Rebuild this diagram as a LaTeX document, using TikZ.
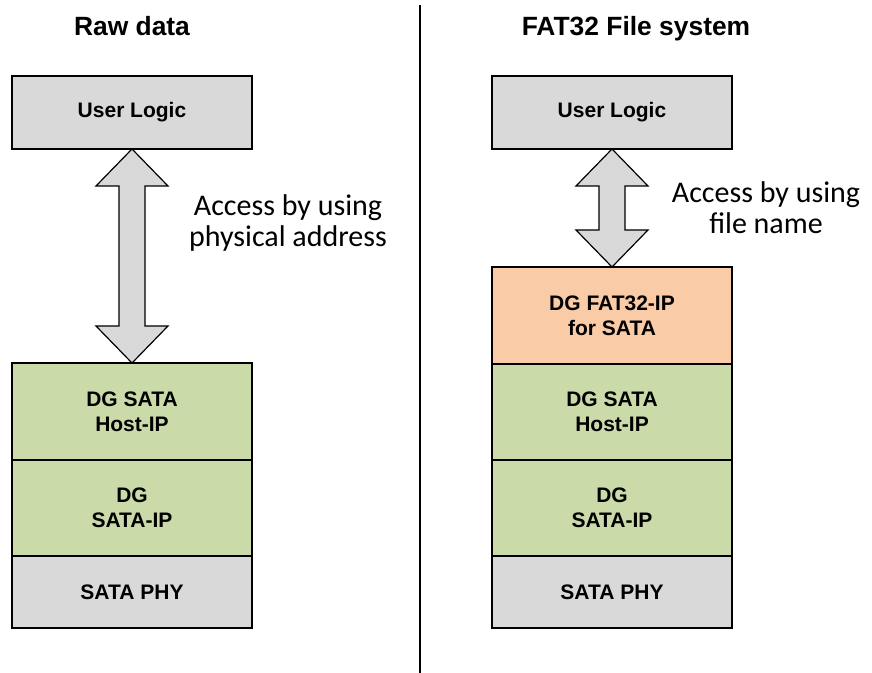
\documentclass[tikz,border=0pt]{standalone}
\usepackage{fontspec}
\setmainfont{Liberation Sans}
\newfontfamily\calibri{Carlito}
\usetikzlibrary{positioning,calc}

\definecolor{boxgray}{HTML}{D9D9D9}
\definecolor{boxgreen}{HTML}{CADBA9}
\definecolor{boxorange}{HTML}{F9CBA7}

% double headed block arrow between two anchors
\newcommand{\dblarrow}[2]{%
  \draw[bigarrow] (#1) -- ++(36,37) -- ++(-23,0) -- ($(#2)+(13,-37)$)
    -- ++(23,0) -- (#2) -- ++(-36,-37) -- ++(23,0)
    -- ($(#1)+(-13,37)$) -- ++(-23,0) -- cycle;}

\begin{document}
\begin{tikzpicture}[x=0.5pt,y=-0.5pt,node distance=0pt,
                    font=\bfseries\fontsize{10.5}{12.5}\selectfont]
\tikzstyle{layer}=[draw=black,line width=0.7pt,align=center,
                   minimum width=120pt,inner sep=0pt,outer sep=0pt]
\tikzstyle{gray}=[layer,fill=boxgray]
\tikzstyle{green}=[layer,fill=boxgreen]
\tikzstyle{orange}=[layer,fill=boxorange]
\tikzstyle{title}=[font=\bfseries\fontsize{13.2}{15}\selectfont,anchor=base]
\tikzstyle{note}=[font=\calibri\fontsize{15}{15.5}\selectfont,align=center]
\tikzstyle{bigarrow}=[draw=black,line width=0.6pt,fill=boxgray,line join=miter]
\useasboundingbox (0,0) rectangle (872,673);

% raw data side
\node[title] (t1) at (132,36) {Raw data};
\node[gray,minimum height=36.5pt] (ul1) at (132,112.5) {User Logic};
\node[green,minimum height=48.5pt,anchor=north] (host1) at (132,363) {DG SATA\\Host-IP};
\node[green,minimum height=48pt] (sata1) [below=of host1] {DG\\SATA-IP};
\node[gray,minimum height=36pt] (phy1) [below=of sata1] {SATA PHY};
\dblarrow{ul1.south}{host1.north}
\node[note] (n1) at (288,223) {Access by using\\physical address};

% divider
\draw[line width=1pt] (420,5) -- (420,673);

% fat32 side
\node[title] (t2) at (636,36) {FAT32 File system};
\node[gray,minimum height=36.5pt] (ul2) at (612,112.5) {User Logic};
\node[orange,minimum height=48.5pt,anchor=north] (fat) at (612,267) {DG FAT32-IP\\for SATA};
\node[green,minimum height=48pt] (host2) [below=of fat] {DG SATA\\Host-IP};
\node[green,minimum height=48pt] (sata2) [below=of host2] {DG\\SATA-IP};
\node[gray,minimum height=36pt] (phy2) [below=of sata2] {SATA PHY};
\dblarrow{ul2.south}{fat.north}
\node[note] (n2) at (766,208) {Access by using\\file name};

\end{tikzpicture}
\end{document}
